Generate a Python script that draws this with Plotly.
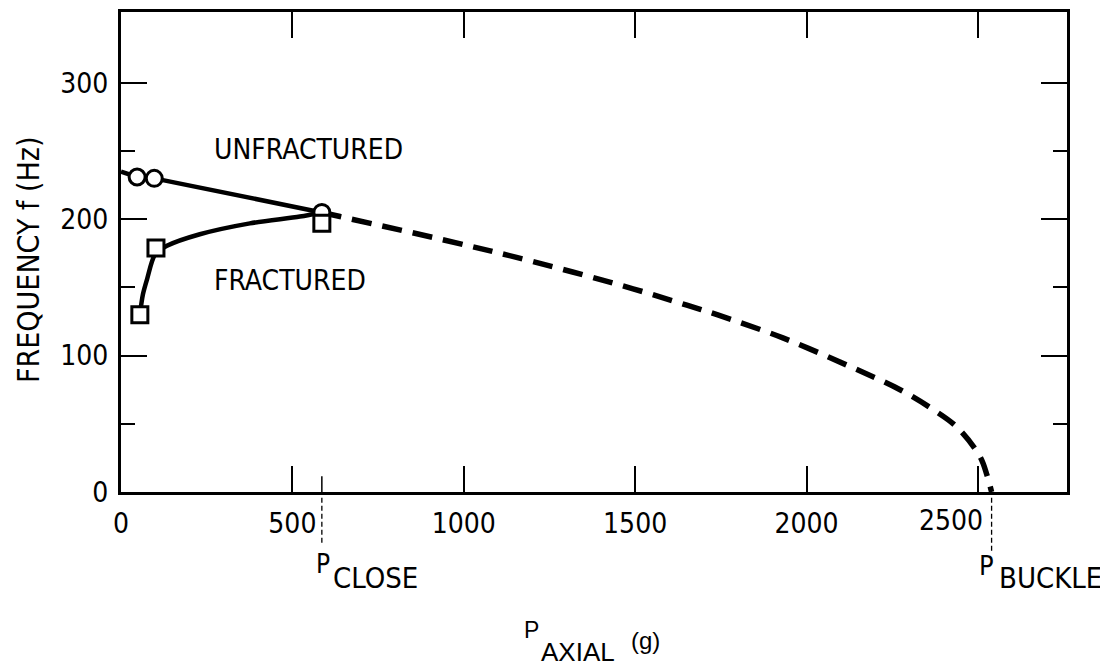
import plotly.graph_objects as go

# ---------------- data ----------------
unfrac_line_x = [0, 47, 97, 586]
unfrac_line_y = [235, 231, 230, 205]
unfrac_pts_x = [47, 97, 586]
unfrac_pts_y = [231, 230, 205]

frac_line_x = [55, 64, 76, 99, 134, 230, 376, 522, 586]
frac_line_y = [130, 145, 156, 174, 180.5, 189, 197, 202, 205]
frac_pts_x = [55, 102, 586]
frac_pts_y = [130, 179, 197]

extrap_x = [586, 639, 939, 1202, 1494, 1651, 1739, 1931, 2127, 2273, 2369, 2439, 2506, 2527, 2540]
extrap_y = [205, 202, 185, 169, 149, 137, 130, 113, 92, 75, 60.5, 47.5, 26, 12, 0]

P_CLOSE = 586
P_BUCKLE = 2540

x_tickvals = [0, 500, 1000, 1500, 2000, 2500]
x_ticktext = ["0", "500", "1000", "1500", "2000", ""]
y_tickvals = [0, 100, 200, 300]
y_ticktext = ["0", "100", "200", "300"]

NARROW = "DejaVu Sans Condensed, Liberation Sans Narrow, Arial Narrow, sans-serif"
REG = "Liberation Sans, Arial, sans-serif"

# page geometry (the page body has an 8px margin)
OFF = 8
W, H = 1100, 660
PL, PR, PT, PB = 121, 1067, 12, 492          # plot area in page pixels
L, R, T, B = PL - OFF, (W + OFF) - PR, PT - OFF, (H + OFF) - PB


def px_to_paper(px, py):
    return (px - PL) / (PR - PL), 1 - (py - PT) / (PB - PT)


fig = go.Figure()

fig.add_trace(go.Scatter(x=extrap_x, y=extrap_y, mode="lines",
                         line=dict(color="black", width=5.5, dash="20px,11px", shape="spline"),
                         showlegend=False, hoverinfo="skip"))
fig.add_trace(go.Scatter(x=unfrac_line_x, y=unfrac_line_y, mode="lines",
                         line=dict(color="black", width=4.5),
                         showlegend=False))
fig.add_trace(go.Scatter(x=frac_line_x, y=frac_line_y, mode="lines",
                         line=dict(color="black", width=4.5, shape="spline", smoothing=0.8),
                         showlegend=False))
fig.add_trace(go.Scatter(x=unfrac_pts_x, y=unfrac_pts_y, mode="markers",
                         marker=dict(symbol="circle", size=16, color="white",
                                     line=dict(color="black", width=3)),
                         name="UNFRACTURED", showlegend=False))
fig.add_trace(go.Scatter(x=frac_pts_x, y=frac_pts_y, mode="markers",
                         marker=dict(symbol="square", size=16, color="white",
                                     line=dict(color="black", width=3)),
                         name="FRACTURED", showlegend=False))

# P_close inner tick and dashed guide lines below the axis
fig.add_shape(type="line", xref="x", yref="y", x0=P_CLOSE, x1=P_CLOSE, y0=0, y1=11.5,
              line=dict(color="black", width=1.5))
fig.add_shape(type="line", xref="x", yref="paper", x0=P_CLOSE, x1=P_CLOSE, y0=-0.012, y1=-0.106,
              line=dict(color="black", width=1.3, dash="5px,3px"))
fig.add_shape(type="line", xref="x", yref="paper", x0=P_BUCKLE, x1=P_BUCKLE, y0=-0.012, y1=-0.128,
              line=dict(color="black", width=1.3, dash="5px,3px"))

fig.add_annotation(x=2500, y=0, xref="x", yref="y", text="2500", showarrow=False,
                   xanchor="center", yanchor="middle", xshift=-27, yshift=-28,
                   font=dict(family=NARROW, size=28, color="black"))
fig.add_annotation(x=265, y=251, xref="x", yref="y", text="UNFRACTURED", showarrow=False,
                   xanchor="left", yanchor="middle", font=dict(family=NARROW, size=28, color="black"))
fig.add_annotation(x=265, y=155, xref="x", yref="y", text="FRACTURED", showarrow=False,
                   xanchor="left", yanchor="middle", font=dict(family=NARROW, size=28, color="black"))
# P_CLOSE label
fig.add_annotation(x=P_CLOSE, y=0, xref="x", yref="y", text="P", showarrow=False,
                   xanchor="center", yanchor="middle", xshift=1, yshift=-72,
                   font=dict(family=NARROW, size=26, color="black"))
fig.add_annotation(x=P_CLOSE, y=0, xref="x", yref="y", text="CLOSE", showarrow=False,
                   xanchor="left", yanchor="middle", xshift=9, yshift=-86,
                   font=dict(family=NARROW, size=29, color="black"))
# P_BUCKLE label
fig.add_annotation(x=P_BUCKLE, y=0, xref="x", yref="y", text="P", showarrow=False,
                   xanchor="center", yanchor="middle", xshift=-5, yshift=-73,
                   font=dict(family=NARROW, size=27, color="black"))
fig.add_annotation(x=P_BUCKLE, y=0, xref="x", yref="y", text="BUCKLE", showarrow=False,
                   xanchor="left", yanchor="middle", xshift=5, yshift=-86,
                   font=dict(family=NARROW, size=29, color="black"))

# x-axis title
for txt, (cx, cy), size in [("P", (531, 630), 23), ("AXIAL", (578, 652), 26), ("(g)", (645, 640), 24)]:
    xp, yp = px_to_paper(cx, cy)
    fig.add_annotation(x=xp, y=yp, xref="paper", yref="paper", text=txt, showarrow=False,
                       xanchor="center", yanchor="middle", font=dict(family=REG, size=size, color="black"))

# y-axis title
xp, yp = px_to_paper(28, 260)
fig.add_annotation(x=xp, y=yp, xref="paper", yref="paper", text="FREQUENCY f (Hz)", showarrow=False,
                   textangle=-90, xanchor="center", yanchor="middle",
                   font=dict(family=NARROW, size=30, color="black"))

fig.update_layout(
    width=W, height=H,
    margin=dict(l=L, r=R, t=T, b=B, autoexpand=False),
    paper_bgcolor="white", plot_bgcolor="white",
    showlegend=False,
    xaxis=dict(range=[0, 2760], tickvals=x_tickvals, ticktext=x_ticktext,
               ticks="inside", ticklen=26, tickwidth=1.5, tickcolor="black",
               showline=True, linewidth=3, linecolor="black", mirror="ticks",
               showgrid=False, zeroline=False, ticklabelstandoff=4,
               tickfont=dict(family=NARROW, size=28, color="black")),
    yaxis=dict(range=[0, 352], tickvals=y_tickvals, ticktext=y_ticktext,
               ticks="inside", ticklen=26, tickwidth=1.8, tickcolor="black",
               showline=True, linewidth=3, linecolor="black", mirror="allticks",
               showgrid=False, zeroline=False, ticklabelstandoff=4,
               minor=dict(tickvals=[50, 150, 250], ticks="inside", ticklen=14,
                          tickwidth=1.8, tickcolor="black", showgrid=False),
               tickfont=dict(family=NARROW, size=28, color="black")),
)

fig.write_html("out.html")
